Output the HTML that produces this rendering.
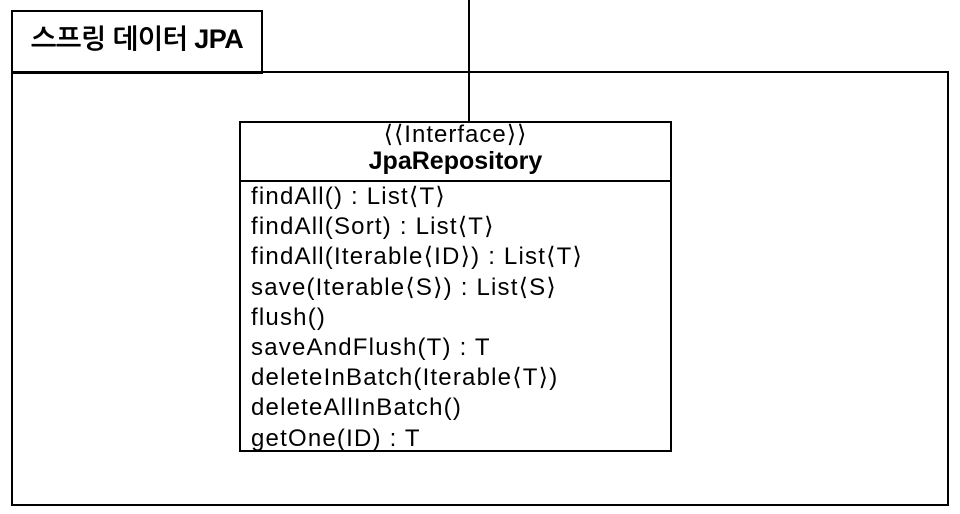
<!DOCTYPE html>
<html><head><meta charset="utf-8"><style>
body{margin:0;width:960px;height:514px;background:#fff;position:relative;overflow:hidden;font-family:"Liberation Sans","NanumGothic","Noto Sans CJK KR",sans-serif;color:#000}
.b{position:absolute;border:2px solid #000;box-sizing:border-box}
.t{position:absolute;white-space:nowrap}
.m{position:absolute;left:251px;font-size:24px;line-height:30.2px;top:182px;white-space:nowrap;letter-spacing:1.2px}
</style></head><body>
<div class="b" style="left:11px;top:10px;width:252px;height:64px"></div>
<div class="b" style="left:11px;top:71px;width:938px;height:435px"></div>
<div style="position:absolute;left:468px;top:0;width:2px;height:123px;background:#000"></div>
<div class="t" style="left:31px;top:24px;font-size:27px;font-weight:bold;letter-spacing:-0.5px">스프링 데이터 JPA</div>
<div class="b" style="left:239px;top:121px;width:433px;height:331px;background:#fff"></div>
<div style="position:absolute;left:239px;top:180px;width:433px;height:2px;background:#000"></div>
<div class="t" style="left:239px;width:433px;text-align:center;top:120px;font-size:24px;letter-spacing:1px">⟨⟨Interface⟩⟩</div>
<div class="t" style="left:239px;width:433px;text-align:center;top:147px;font-size:25px;font-weight:bold;letter-spacing:0px">JpaRepository</div>
<div class="m">findAll() : List⟨T⟩<br>findAll(Sort) : List⟨T⟩<br>findAll(Iterable⟨ID⟩) : List⟨T⟩<br>save(Iterable⟨S⟩) : List⟨S⟩<br>flush()<br>saveAndFlush(T) : T<br>deleteInBatch(Iterable⟨T⟩)<br>deleteAllInBatch()<br>getOne(ID) : T</div>
</body></html>
